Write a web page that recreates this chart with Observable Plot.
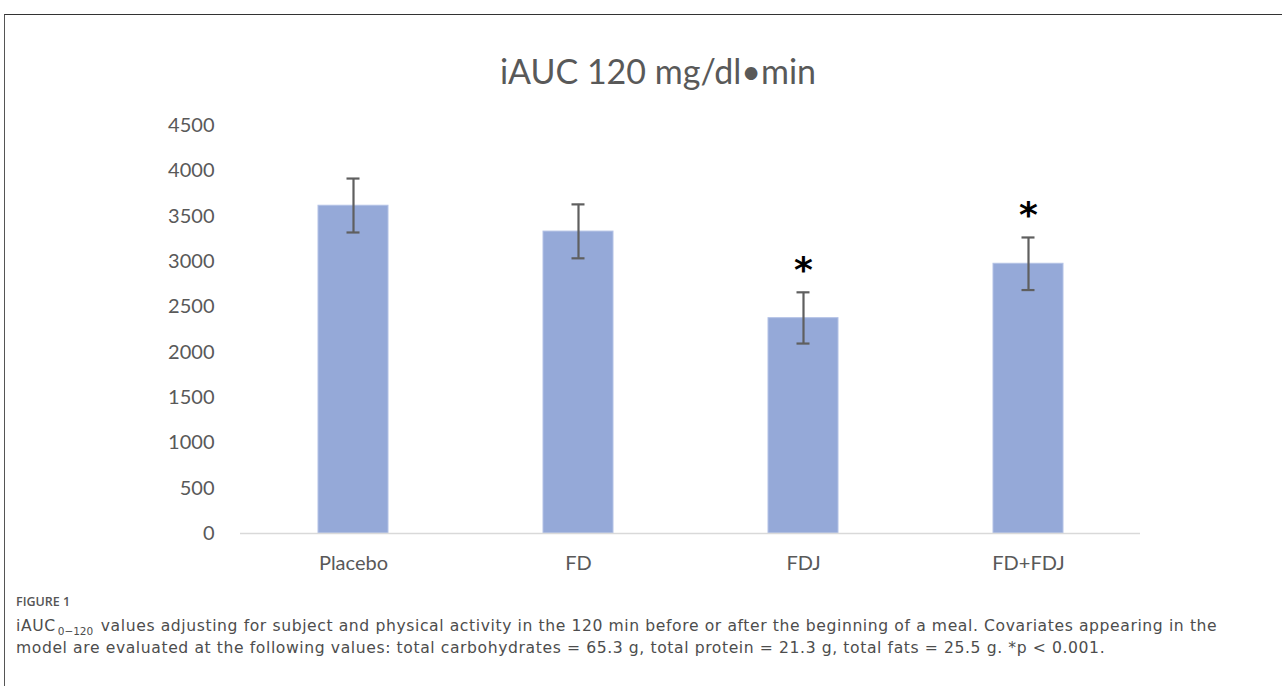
<!DOCTYPE html>
<html>
<head>
<meta charset="utf-8">
<script src="https://cdn.jsdelivr.net/npm/d3@7"></script>
<script src="https://cdn.jsdelivr.net/npm/@observablehq/plot@0.6"></script>
<style>
  html, body { margin: 0; padding: 0; background: #fff; width: 1282px; height: 686px; overflow: hidden; }
  #frame { position: absolute; left: 4px; top: 14px; right: 0; bottom: 0; border-top: 1.5px solid #333; border-left: 1.5px solid #555; }
  #title { position: absolute; left: 0; width: 1316px; top: 50px; text-align: center; font-family: Lato, "Open Sans", sans-serif; font-size: 34px; color: #595959; }
  #chart { position: absolute; left: 0; top: 100px; }
  #figlabel { position: absolute; left: 16px; top: 593px; font-family: "Open Sans", sans-serif; font-weight: 600; font-size: 12.5px; color: #555; }
  #caption { position: absolute; left: 16px; top: 615px; font-family: "DejaVu Sans", sans-serif; font-size: 15.6px; line-height: 22px; color: #4d4d4d; letter-spacing: 0.6px; white-space: nowrap; }
  #caption .sub { display: inline-block; position: relative; top: 4px; font-size: 10.5px; line-height: 10px; letter-spacing: 0; margin: 0 2px 0 2px; }
</style>
</head>
<body>
<div id="frame"></div>
<div id="title">iAUC 120 mg/dl•min</div>
<div id="chart"></div>
<div id="figlabel">FIGURE 1</div>
<div id="caption"><div>iAUC<span class="sub">0−120</span> values adjusting for subject and physical activity in the 120 min before or after the beginning of a meal. Covariates appearing in the</div><div>model are evaluated at the following values: total carbohydrates = 65.3 g, total protein = 21.3 g, total fats = 25.5 g. *p &lt; 0.001.</div></div>
<script>
const groups = ["Placebo", "FD", "FDJ", "FD+FDJ"];
const means = [3615, 3330, 2375, 2975];
const errLow = [3320, 3035, 2095, 2685];
const errHigh = [3915, 3630, 2660, 3265];
const significant = [false, false, true, true];
const yTicks = [0, 500, 1000, 1500, 2000, 2500, 3000, 3500, 4000, 4500];

const data = groups.map((g, i) => ({group: g, mean: means[i], lo: errLow[i], hi: errHigh[i], sig: significant[i]}));

const chart = Plot.plot({
  width: 1282,
  height: 480,
  marginLeft: 240,
  marginRight: 142,
  marginTop: 25,
  marginBottom: 47,
  style: {fontFamily: "Lato, 'Open Sans', sans-serif", fontSize: "20px", color: "#595959", background: "transparent"},
  x: {domain: groups, paddingInner: 0.69, paddingOuter: 0.345, label: null},
  y: {domain: [0, 4500], label: null},
  marks: [
    Plot.barY(data, {x: "group", y: "mean", fill: "#95a9d8", stroke: "#b3c2e6", strokeWidth: 1}),
    Plot.ruleY([0], {stroke: "#d9d9d9", strokeWidth: 1.5}),
    Plot.ruleX(data, {x: "group", y1: "lo", y2: "hi", stroke: "#5f5f5f", strokeWidth: 2.2}),
    Plot.tickY(data, {x: "group", y: "lo", stroke: "#5f5f5f", strokeWidth: 2.2, inset: 28.5}),
    Plot.tickY(data, {x: "group", y: "hi", stroke: "#5f5f5f", strokeWidth: 2.2, inset: 28.5}),
    Plot.text(data.filter(d => d.sig), {x: "group", y: "hi", text: () => "*", dy: -10, lineAnchor: "bottom", fontSize: 36, fontWeight: "bold", fill: "#000", fontFamily: "DejaVu Sans"}),
    Plot.axisY({ticks: yTicks, tickFormat: d3.format("d"), tickSize: 0, tickPadding: 26, fill: "#595959", fontSize: 20, label: null}),
    Plot.axisX({tickSize: 0, tickPadding: 22, fill: "#595959", fontSize: 20, label: null})
  ]
});
document.getElementById("chart").appendChild(chart);
</script>
</body>
</html>
